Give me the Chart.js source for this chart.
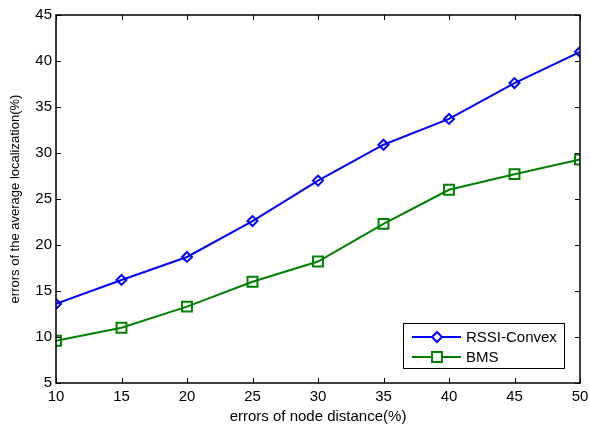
<!DOCTYPE html>
<html>
<head>
<meta charset="utf-8">
<script src="https://cdn.jsdelivr.net/npm/chart.js@4/dist/chart.umd.min.js"></script>
<style>
html, body { margin: 0; padding: 0; background: #fff; }
#wrap { width: 590px; height: 425px; }
</style>
</head>
<body>
<div id="wrap"><canvas id="lineChart" width="590" height="425"></canvas></div>
<script>
// data
var distErr = [10, 15, 20, 25, 30, 35, 40, 45, 50];
var rssiConvex = [13.6, 16.2, 18.7, 22.6, 27.0, 30.9, 33.7, 37.6, 41.0];
var bms = [9.6, 11.0, 13.3, 16.0, 18.2, 22.3, 26.0, 27.7, 29.3];
var seriesNames = ["RSSI-Convex", "BMS"];
var xTicks = [10, 15, 20, 25, 30, 35, 40, 45, 50];
var yTicks = [5, 10, 15, 20, 25, 30, 35, 40, 45];

var FONT = '"Liberation Sans", Arial, sans-serif';

function pts(ys) {
  return distErr.map(function (x, i) { return { x: x, y: ys[i] }; });
}

// box + inward ticks on all four sides, matlab style
var boxTicks = {
  id: 'boxTicks',
  afterDatasetsDraw: function (chart) {
    var c = chart.ctx, a = chart.chartArea;
    var xs = chart.scales.x, ys = chart.scales.y;
    var len = 5;
    c.save();
    c.strokeStyle = '#000';
    c.lineWidth = 1;
    c.beginPath();
    xTicks.forEach(function (v) {
      var px = Math.round(xs.getPixelForValue(v)) + 0.5;
      c.moveTo(px, a.bottom); c.lineTo(px, a.bottom - len);
      c.moveTo(px, a.top); c.lineTo(px, a.top + len);
    });
    yTicks.forEach(function (v) {
      var py = Math.round(ys.getPixelForValue(v)) + 0.5;
      c.moveTo(a.left, py); c.lineTo(a.left + len, py);
      c.moveTo(a.right, py); c.lineTo(a.right - len, py);
    });
    c.stroke();
    c.lineWidth = 1.5;
    c.strokeRect(a.left, a.top, a.right - a.left, a.bottom - a.top);
    c.restore();
  }
};

// legend box inside the plot, lower right
var boxLegend = {
  id: 'boxLegend',
  afterDraw: function (chart) {
    var c = chart.ctx, a = chart.chartArea;
    var w = 161, h = 45;
    var x0 = Math.round(a.right - 16 - w), y0 = Math.round(a.bottom - 15 - h);
    c.save();
    c.fillStyle = '#fff';
    c.fillRect(x0, y0, w, h);
    c.strokeStyle = '#000';
    c.lineWidth = 1;
    c.strokeRect(x0 + 0.5, y0 + 0.5, w, h);
    c.font = '15px ' + FONT;
    c.textBaseline = 'middle';
    chart.data.datasets.forEach(function (ds, i) {
      var ly = y0 + 14 + i * 20;
      c.strokeStyle = ds.borderColor;
      c.lineWidth = 2;
      c.beginPath();
      c.moveTo(x0 + 9, ly); c.lineTo(x0 + 58, ly);
      c.stroke();
      c.fillStyle = '#fff';
      Chart.helpers.drawPoint(c, {
        pointStyle: ds.pointStyle, radius: ds.pointRadius, borderWidth: 2
      }, x0 + 34, ly);
      c.fillStyle = '#000';
      c.fillText(ds.label, x0 + 63, ly + 1);
    });
    c.restore();
  }
};

var ctx = document.getElementById('lineChart');
var myChart = new Chart(ctx, {
  type: 'line',
  data: {
    datasets: [{
      label: seriesNames[0],
      data: pts(rssiConvex),
      borderColor: '#0000ff',
      backgroundColor: '#ffffff',
      borderWidth: 2,
      pointStyle: 'rectRot',
      pointRadius: 5,
      pointBorderWidth: 2,
      pointBackgroundColor: 'rgba(0,0,0,0)',
      pointBorderColor: '#0000ff',
      tension: 0
    }, {
      label: seriesNames[1],
      data: pts(bms),
      borderColor: '#008000',
      backgroundColor: '#ffffff',
      borderWidth: 2,
      pointStyle: 'rect',
      pointRadius: 7,
      pointBorderWidth: 2,
      pointBackgroundColor: 'rgba(0,0,0,0)',
      pointBorderColor: '#008000',
      tension: 0
    }]
  },
  options: {
    responsive: false,
    animation: false,
    layout: { padding: { top: 15, right: 10, left: 0, bottom: 0 } },
    plugins: {
      legend: { display: false },
      tooltip: { enabled: false }
    },
    scales: {
      x: {
        type: 'linear',
        min: 10, max: 50,
        afterBuildTicks: function (s) { s.ticks = xTicks.map(function (v) { return { value: v }; }); },
        afterFit: function (s) { s.height = 42; s.paddingLeft = 0; s.paddingRight = 0; },
        grid: { display: false, drawTicks: false },
        border: { display: false },
        ticks: {
          color: '#000', padding: 5,
          font: { family: FONT, size: 15 }
        },
        title: {
          display: true, text: 'errors of node distance(%)', color: '#000',
          padding: { top: 0, bottom: -1 },
          font: { family: FONT, size: 15 }
        }
      },
      y: {
        min: 5, max: 45,
        afterBuildTicks: function (s) { s.ticks = yTicks.map(function (v) { return { value: v }; }); },
        afterFit: function (s) { s.width = 56; },
        grid: { display: false, drawTicks: false },
        border: { display: false },
        ticks: {
          color: '#000', padding: 4,
          font: { family: FONT, size: 15 }
        },
        title: {
          display: true, text: 'errors of the average localization(%)', color: '#000',
          padding: { top: 8, bottom: 0 },
          font: { family: FONT, size: 13 }
        }
      }
    }
  },
  plugins: [boxTicks, boxLegend]
});
</script>
</body>
</html>
